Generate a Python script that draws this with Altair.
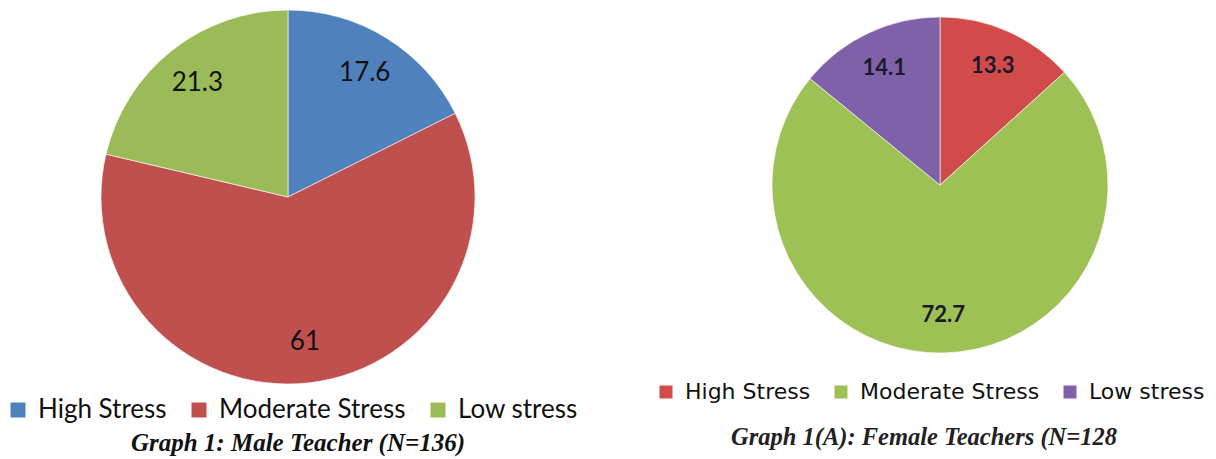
import altair as alt
import pandas as pd

categories = ["High Stress", "Moderate Stress", "Low stress"]
order_idx = [0, 1, 2]

male_values = [17.6, 61, 21.3]
male_labels = ["17.6", "61", "21.3"]
male_colors = ["#4F81BD", "#C0504D", "#9BBB59"]

female_values = [13.3, 72.7, 14.1]
female_labels = ["13.3", "72.7", "14.1"]
female_colors = ["#D04B4A", "#9DC155", "#7E61A8"]

titles = ["Graph 1: Male Teacher (N=136)", "Graph 1(A): Female Teachers (N=128"]

male = pd.DataFrame({"category": categories, "value": male_values,
                     "label": male_labels, "order": order_idx})
female = pd.DataFrame({"category": categories, "value": female_values,
                       "label": female_labels, "order": order_idx})


def pie(df, colors, cx, cy, r, lr, lx, ly, lab_font, lab_weight, lab_size, lab_color,
        leg_font, leg_size, sym_size, col_pad, lab_off):
    base = alt.Chart(df).encode(
        theta=alt.Theta("value:Q", stack=True),
        order=alt.Order("order:Q"),
        x=alt.value(cx), y=alt.value(cy),
    )
    arc = base.mark_arc(outerRadius=r, stroke="#ffffff", strokeWidth=0.6).encode(
        color=alt.Color(
            "category:N",
            scale=alt.Scale(domain=categories, range=colors),
            legend=alt.Legend(
                title=None, orient="none", legendX=lx, legendY=ly,
                direction="horizontal", columns=3, symbolType="square",
                symbolSize=sym_size, symbolStrokeWidth=0, symbolOpacity=1,
                labelFont=leg_font, labelFontSize=leg_size, labelColor="#111111",
                labelLimit=400, columnPadding=col_pad, labelOffset=lab_off, padding=0,
            ),
        )
    )
    text = base.mark_text(font=lab_font, fontWeight=lab_weight, fontSize=lab_size,
                          color=lab_color).encode(radius=alt.value(lr), text="label:N")
    return alt.layer(arc, text)


left = pie(male, male_colors, 288, 197, 187, 146, 5, 397, "Lato", "normal", 26, "#111111",
           "Lato", 26, 225, 19, 7)
right = pie(female, female_colors, 940, 185, 168, 130, 655, 381, "Lato", "bold", 22, "#1a1a2a",
            "DejaVu Sans", 22, 169, 19, 8)

t_left = alt.Chart(pd.DataFrame({"t": [titles[0]]})).mark_text(
    font="Liberation Serif", fontWeight="bold", fontStyle="italic", fontSize=25, color="#111111"
).encode(text="t:N", x=alt.value(298), y=alt.value(443))

t_right = alt.Chart(pd.DataFrame({"t": [titles[1]]})).mark_text(
    font="Liberation Serif", fontWeight="bold", fontStyle="italic", fontSize=24.5, color="#222222"
).encode(text="t:N", x=alt.value(924), y=alt.value(438))

chart = alt.layer(left, right, t_left, t_right).resolve_scale(
    theta="independent", color="independent"
).properties(width=1216, height=459, padding=0, autosize="none").configure_view(stroke=None)

chart.save("out.html", embed_options={"renderer": "svg", "actions": False})
